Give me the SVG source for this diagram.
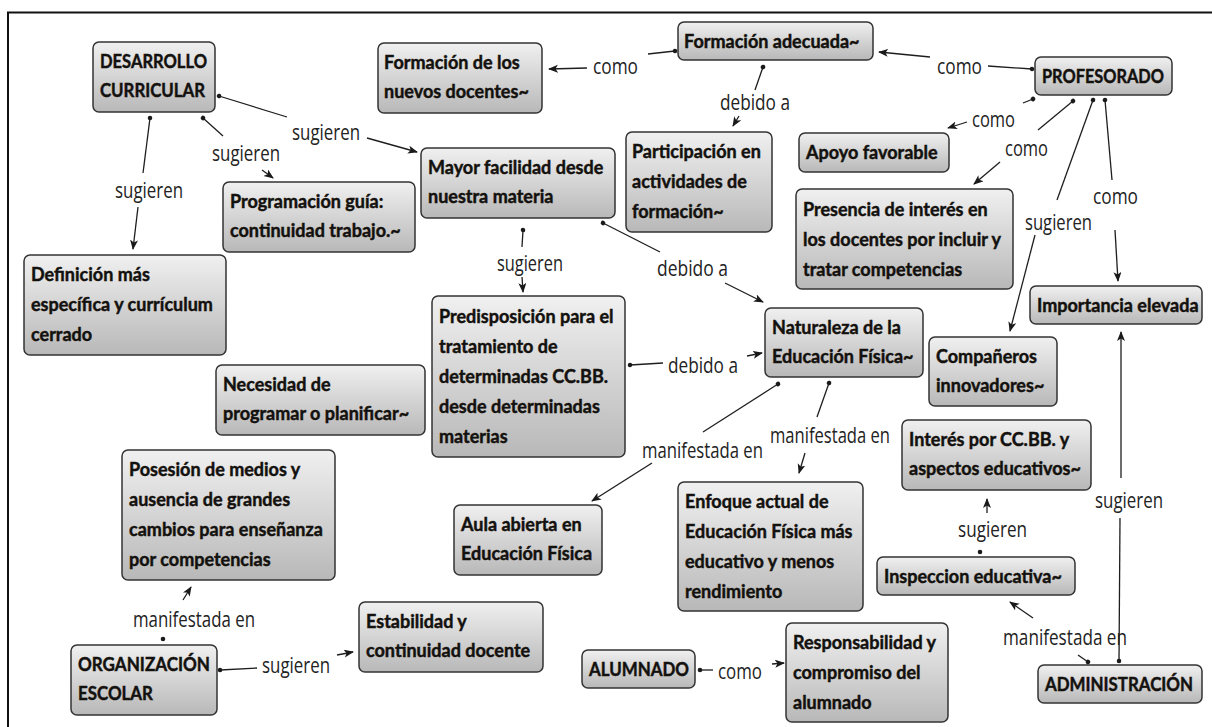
<svg xmlns="http://www.w3.org/2000/svg" width="1212" height="727" viewBox="0 0 1212 727">
<defs>
<linearGradient id="g" x1="0" y1="0" x2="0" y2="1">
<stop offset="0" stop-color="#f0f0f0"/>
<stop offset="1" stop-color="#b8b8b8"/>
</linearGradient>
<marker id="ar" markerUnits="userSpaceOnUse" markerWidth="12" markerHeight="10" refX="9" refY="4" orient="auto">
<path d="M0,0 L10,4 L0,8 L2.5,4 Z" fill="#1a1a1a"/>
</marker>
<marker id="dt" markerUnits="userSpaceOnUse" markerWidth="6" markerHeight="6" refX="3" refY="3" orient="auto">
<circle cx="3" cy="3" r="2.3" fill="#1a1a1a"/>
</marker>
</defs>
<style>
.n rect{fill:url(#g);stroke:#333;stroke-width:1.5}
.n text{font-family:Lato,"Liberation Sans",sans-serif;font-weight:bold;font-size:18px;fill:#111;stroke:#1a1208;stroke-width:0.45px}
.l{font-family:"Open Sans","Liberation Sans",sans-serif;font-size:21px;fill:#222}
.c line{stroke:#1e1e1e;stroke-width:1.3;fill:none}
.s{marker-start:url(#dt)}
.e{marker-end:url(#ar)}
</style>
<rect width="1212" height="727" fill="#fff"/>
<path d="M8,727 V12.5 H1212" fill="none" stroke="#111" stroke-width="2"/>

<g id="connectors" class="c">
<line class="s" x1="219" y1="96" x2="287" y2="117"/>
<line class="e" x1="367" y1="138" x2="417" y2="152"/>
<line class="s" x1="203" y1="118" x2="223" y2="136"/>
<line class="e" x1="262" y1="170" x2="273" y2="178"/>
<line class="s" x1="150" y1="118" x2="143" y2="173"/>
<line class="e" x1="138" y1="207" x2="133" y2="249"/>
<line class="s" x1="675" y1="51" x2="648" y2="54"/>
<line class="e" x1="587" y1="68" x2="549" y2="69"/>
<line class="s" x1="1032" y1="69" x2="988" y2="66"/>
<line class="e" x1="930" y1="57" x2="879" y2="52"/>
<line class="s" x1="1033" y1="99" x2="1023" y2="103"/>
<line class="e" x1="967" y1="122" x2="948" y2="128"/>
<line class="s" x1="1073" y1="101" x2="1038" y2="130"/>
<line class="e" x1="1000" y1="162" x2="974" y2="184"/>
<line class="s" x1="1093" y1="100" x2="1057" y2="200"/>
<line class="e" x1="1035" y1="235" x2="1010" y2="331"/>
<line class="s" x1="1105" y1="100" x2="1112" y2="180"/>
<line class="e" x1="1115" y1="230" x2="1118" y2="281"/>
<line class="s" x1="763" y1="67" x2="755" y2="90"/>
<line class="e" x1="739" y1="116" x2="733" y2="126"/>
<line class="s" x1="523" y1="230" x2="522" y2="247"/>
<line class="e" x1="522" y1="277" x2="523" y2="292"/>
<line class="s" x1="603" y1="223" x2="660" y2="252"/>
<line class="e" x1="725" y1="283" x2="763" y2="302"/>
<line class="s" x1="630" y1="365" x2="663" y2="363"/>
<line class="e" x1="747" y1="356" x2="762" y2="353"/>
<line class="s" x1="778" y1="384" x2="703" y2="432"/>
<line class="e" x1="652" y1="463" x2="592" y2="501"/>
<line class="s" x1="829" y1="383" x2="817" y2="417"/>
<line class="e" x1="805" y1="453" x2="799" y2="473"/>
<line class="s" x1="980" y1="552" x2="980" y2="551"/>
<line class="e" x1="987" y1="513" x2="987" y2="499"/>
<line class="s" x1="1088" y1="662" x2="1078" y2="655"/>
<line class="e" x1="1033" y1="618" x2="1010" y2="602"/>
<line class="s" x1="1119" y1="661" x2="1120" y2="518"/>
<line class="e" x1="1121" y1="478" x2="1121" y2="332"/>
<line class="s" x1="163" y1="639" x2="163" y2="638"/>
<line class="e" x1="183" y1="600" x2="191" y2="587"/>
<line class="s" x1="220" y1="670" x2="257" y2="668"/>
<line class="e" x1="337" y1="655" x2="353" y2="652"/>
<line class="s" x1="700" y1="670" x2="713" y2="670"/>
<line class="e" x1="772" y1="664" x2="784" y2="663"/>
</g>

<g id="labels">
<text class="l" x="292" y="140" textLength="68" lengthAdjust="spacingAndGlyphs">sugieren</text>
<text class="l" x="212" y="161" textLength="68" lengthAdjust="spacingAndGlyphs">sugieren</text>
<text class="l" x="115" y="198" textLength="68" lengthAdjust="spacingAndGlyphs">sugieren</text>
<text class="l" x="593" y="74" textLength="45" lengthAdjust="spacingAndGlyphs">como</text>
<text class="l" x="937" y="74" textLength="45" lengthAdjust="spacingAndGlyphs">como</text>
<text class="l" x="972" y="127" textLength="43" lengthAdjust="spacingAndGlyphs">como</text>
<text class="l" x="1005" y="156" textLength="43" lengthAdjust="spacingAndGlyphs">como</text>
<text class="l" x="1025" y="230" textLength="67" lengthAdjust="spacingAndGlyphs">sugieren</text>
<text class="l" x="1093" y="204" textLength="45" lengthAdjust="spacingAndGlyphs">como</text>
<text class="l" x="720" y="110" textLength="70" lengthAdjust="spacingAndGlyphs">debido a</text>
<text class="l" x="497" y="271" textLength="66" lengthAdjust="spacingAndGlyphs">sugieren</text>
<text class="l" x="657" y="276" textLength="71" lengthAdjust="spacingAndGlyphs">debido a</text>
<text class="l" x="668" y="373" textLength="70" lengthAdjust="spacingAndGlyphs">debido a</text>
<text class="l" x="642" y="458" textLength="121" lengthAdjust="spacingAndGlyphs">manifestada en</text>
<text class="l" x="770" y="443" textLength="120" lengthAdjust="spacingAndGlyphs">manifestada en</text>
<text class="l" x="958" y="537" textLength="69" lengthAdjust="spacingAndGlyphs">sugieren</text>
<text class="l" x="1003" y="645" textLength="124" lengthAdjust="spacingAndGlyphs">manifestada en</text>
<text class="l" x="1095" y="508" textLength="68" lengthAdjust="spacingAndGlyphs">sugieren</text>
<text class="l" x="133" y="627" textLength="122" lengthAdjust="spacingAndGlyphs">manifestada en</text>
<text class="l" x="262" y="673" textLength="68" lengthAdjust="spacingAndGlyphs">sugieren</text>
<text class="l" x="718" y="679" textLength="44" lengthAdjust="spacingAndGlyphs">como</text>
</g>

<g id="n1" class="n"><rect x="93" y="42" width="122" height="70" rx="6"/><text x="100" y="68" textLength="107" lengthAdjust="spacingAndGlyphs">DESARROLLO</text><text x="100" y="97" textLength="105" lengthAdjust="spacingAndGlyphs">CURRICULAR</text></g>
<g id="n2" class="n"><rect x="378" y="43" width="164" height="70" rx="6"/><text x="384" y="69">Formación de los</text><text x="384" y="98">nuevos docentes~</text></g>
<g id="n3" class="n"><rect x="678" y="22" width="195" height="38" rx="6"/><text x="684" y="48">Formación adecuada~</text></g>
<g id="n4" class="n"><rect x="1035" y="57" width="137" height="38" rx="6"/><text x="1042" y="83" textLength="122" lengthAdjust="spacingAndGlyphs">PROFESORADO</text></g>
<g id="n5" class="n"><rect x="799" y="133" width="150" height="39" rx="6"/><text x="806" y="159">Apoyo favorable</text></g>
<g id="n6" class="n"><rect x="796" y="189" width="217" height="100" rx="6"/><text x="803" y="216">Presencia de interés en</text><text x="803" y="246">los docentes por incluir y</text><text x="803" y="276">tratar competencias</text></g>
<g id="n7" class="n"><rect x="421" y="148" width="194" height="70" rx="6"/><text x="428" y="174">Mayor facilidad desde</text><text x="428" y="203">nuestra materia</text></g>
<g id="n8" class="n"><rect x="626" y="132" width="146" height="100" rx="6"/><text x="632" y="158">Participación en</text><text x="632" y="188">actividades de</text><text x="632" y="218">formación~</text></g>
<g id="n9" class="n"><rect x="223" y="182" width="192" height="70" rx="6"/><text x="230" y="208">Programación guía:</text><text x="230" y="237">continuidad trabajo.~</text></g>
<g id="n10" class="n"><rect x="24" y="255" width="202" height="100" rx="6"/><text x="31" y="281">Definición más</text><text x="31" y="311">específica y currículum</text><text x="31" y="341">cerrado</text></g>
<g id="n11" class="n"><rect x="216" y="365" width="209" height="70" rx="6"/><text x="223" y="391">Necesidad de</text><text x="223" y="420">programar o planificar~</text></g>
<g id="n12" class="n"><rect x="432" y="296" width="193" height="161" rx="6"/><text x="439" y="323">Predisposición para el</text><text x="439" y="353">tratamiento de</text><text x="439" y="383">determinadas CC.BB.</text><text x="439" y="413">desde determinadas</text><text x="439" y="443">materias</text></g>
<g id="n13" class="n"><rect x="765" y="308" width="158" height="69" rx="6"/><text x="772" y="334">Naturaleza de la</text><text x="772" y="363">Educación Física~</text></g>
<g id="n14" class="n"><rect x="1030" y="286" width="172" height="38" rx="6"/><text x="1037" y="312">Importancia elevada</text></g>
<g id="n15" class="n"><rect x="929" y="337" width="128" height="69" rx="6"/><text x="936" y="363">Compañeros</text><text x="936" y="392">innovadores~</text></g>
<g id="n16" class="n"><rect x="902" y="420" width="189" height="70" rx="6"/><text x="909" y="446">Interés por CC.BB. y</text><text x="909" y="475">aspectos educativos~</text></g>
<g id="n17" class="n"><rect x="122" y="450" width="213" height="130" rx="6"/><text x="129" y="476">Posesión de medios y</text><text x="129" y="506">ausencia de grandes</text><text x="129" y="536">cambios para enseñanza</text><text x="129" y="566">por competencias</text></g>
<g id="n18" class="n"><rect x="454" y="505" width="148" height="70" rx="6"/><text x="461" y="531">Aula abierta en</text><text x="461" y="560">Educación Física</text></g>
<g id="n19" class="n"><rect x="678" y="482" width="185" height="129" rx="6"/><text x="685" y="508">Enfoque actual de</text><text x="685" y="538">Educación Física más</text><text x="685" y="568">educativo y menos</text><text x="685" y="598">rendimiento</text></g>
<g id="n20" class="n"><rect x="359" y="602" width="184" height="70" rx="6"/><text x="366" y="628">Estabilidad y</text><text x="366" y="657">continuidad docente</text></g>
<g id="n21" class="n"><rect x="71" y="645" width="146" height="70" rx="6"/><text x="78" y="671" textLength="132" lengthAdjust="spacingAndGlyphs">ORGANIZACIÓN</text><text x="78" y="700" textLength="75" lengthAdjust="spacingAndGlyphs">ESCOLAR</text></g>
<g id="n22" class="n"><rect x="582" y="650" width="113" height="38" rx="6"/><text x="589" y="676" textLength="100" lengthAdjust="spacingAndGlyphs">ALUMNADO</text></g>
<g id="n23" class="n"><rect x="786" y="623" width="162" height="99" rx="6"/><text x="793" y="649">Responsabilidad y</text><text x="793" y="679">compromiso del</text><text x="793" y="709">alumnado</text></g>
<g id="n24" class="n"><rect x="877" y="557" width="198" height="38" rx="6"/><text x="884" y="583">Inspeccion educativa~</text></g>
<g id="n25" class="n"><rect x="1038" y="665" width="164" height="38" rx="6"/><text x="1045" y="691" textLength="148" lengthAdjust="spacingAndGlyphs">ADMINISTRACIÓN</text></g>
</svg>
